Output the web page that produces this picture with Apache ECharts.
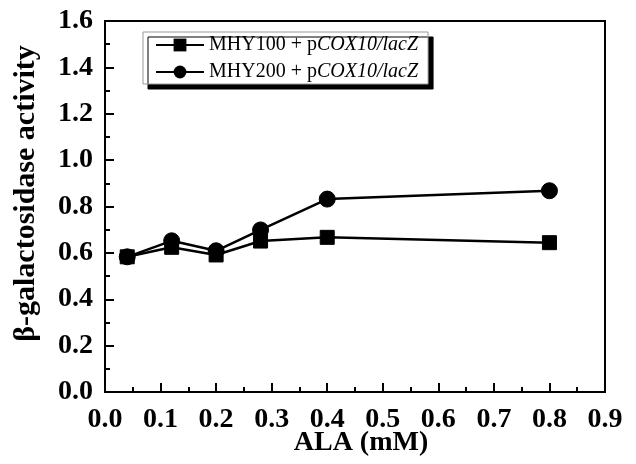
<!DOCTYPE html>
<html>
<head>
<meta charset="utf-8">
<script src="https://cdn.jsdelivr.net/npm/echarts@6/dist/echarts.min.js"></script>
<style>html,body{margin:0;padding:0;background:#fff;}#c{width:636px;height:464px;}</style>
</head>
<body>
<div id="c"></div>
<script>
const xValues = [0.04, 0.12, 0.20, 0.28, 0.40, 0.80];
const mhy100 = [0.583, 0.624, 0.591, 0.651, 0.667, 0.644];
const mhy200 = [0.583, 0.652, 0.609, 0.699, 0.832, 0.868];
const seriesNames = ['MHY100 + pCOX10/lacZ', 'MHY200 + pCOX10/lacZ'];
const xTicks = [0.0, 0.1, 0.2, 0.3, 0.4, 0.5, 0.6, 0.7, 0.8, 0.9];
const yTicks = [0.0, 0.2, 0.4, 0.6, 0.8, 1.0, 1.2, 1.4, 1.6];
const xTitle = 'ALA (mM)';
const yTitle = 'β-galactosidase activity';

const FONT = "'Liberation Serif', 'Times New Roman', serif";
const chart = echarts.init(document.getElementById('c'), null, {renderer: 'canvas'});
const pairs = arr => xValues.map((x, i) => [x, arr[i]]);

chart.setOption({
  animation: false,
  backgroundColor: '#fff',
  grid: {left: 105, right: 31, top: 21, bottom: 72, show: true, borderColor: '#000', borderWidth: 2,
         backgroundColor: 'transparent', containLabel: false, outerBoundsMode: 'none'},
  legend: {
    orient: 'vertical',
    left: 143, top: 32,
    width: 287,
    padding: [3, 10, 2, 12],
    itemWidth: 48, itemHeight: 16, itemGap: 7,
    backgroundColor: '#fff',
    borderColor: '#999', borderWidth: 1,
    shadowColor: '#000', shadowBlur: 0, shadowOffsetX: 5, shadowOffsetY: 5,
    data: seriesNames,
    formatter: function (name) {
      const idx = name.indexOf('+ p') + 3;
      return '{r|' + name.slice(0, idx) + '}{i|' + name.slice(idx) + '}';
    },
    textStyle: {
      color: '#000', fontFamily: FONT, fontSize: 20, lineHeight: 20,
      rich: {
        r: {fontFamily: FONT, fontSize: 20, color: '#000'},
        i: {fontFamily: FONT, fontSize: 20, fontStyle: 'italic', color: '#000'}
      }
    }
  },
  xAxis: {
    type: 'value', min: 0, max: 0.9, interval: 0.1,
    name: xTitle, nameLocation: 'middle', nameGap: 37, nameMoveOverlap: false,
    nameTextStyle: {fontFamily: FONT, fontWeight: 'bold', fontSize: 28, color: '#000', padding: [0, 0, 0, 12]},
    axisLine: {show: true, onZero: false, lineStyle: {color: '#000', width: 2}},
    axisTick: {show: true, inside: true, length: 9, lineStyle: {color: '#000', width: 2}},
    minorTick: {show: true, splitNumber: 2, length: 5, lineStyle: {color: '#000', width: 2}},
    splitLine: {show: false},
    axisLabel: {margin: 14, fontFamily: FONT, fontWeight: 'bold', fontSize: 28, color: '#000',
      formatter: v => { const t = xTicks.find(q => Math.abs(q - v) < 1e-6); return t === undefined ? '' : t.toFixed(1); }}
  },
  yAxis: {
    type: 'value', min: 0, max: 1.6, interval: 0.2,
    name: yTitle, nameLocation: 'middle', nameGap: 64, nameRotate: 90, nameMoveOverlap: false,
    nameTextStyle: {fontFamily: FONT, fontWeight: 'bold', fontSize: 30, color: '#000', padding: [0, 0, 0, 26]},
    axisLine: {show: true, onZero: false, lineStyle: {color: '#000', width: 2}},
    axisTick: {show: true, inside: true, length: 9, lineStyle: {color: '#000', width: 2}},
    minorTick: {show: true, splitNumber: 2, length: 5, lineStyle: {color: '#000', width: 2}},
    splitLine: {show: false},
    axisLabel: {margin: 12, fontFamily: FONT, fontWeight: 'bold', fontSize: 28, color: '#000',
      formatter: v => { const t = yTicks.find(q => Math.abs(q - v) < 1e-6); return t === undefined ? '' : t.toFixed(1); }}
  },
  series: [
    {
      name: seriesNames[0], type: 'line', data: pairs(mhy100),
      symbol: 'rect', symbolSize: 14,
      lineStyle: {color: '#000', width: 2.5},
      itemStyle: {color: '#000', borderColor: '#000'},
      z: 3
    },
    {
      name: seriesNames[1], type: 'line', data: pairs(mhy200),
      symbol: 'circle', symbolSize: 16,
      lineStyle: {color: '#000', width: 2.5},
      itemStyle: {color: '#000', borderColor: '#000'},
      z: 4
    }
  ]
});
</script>
</body>
</html>
